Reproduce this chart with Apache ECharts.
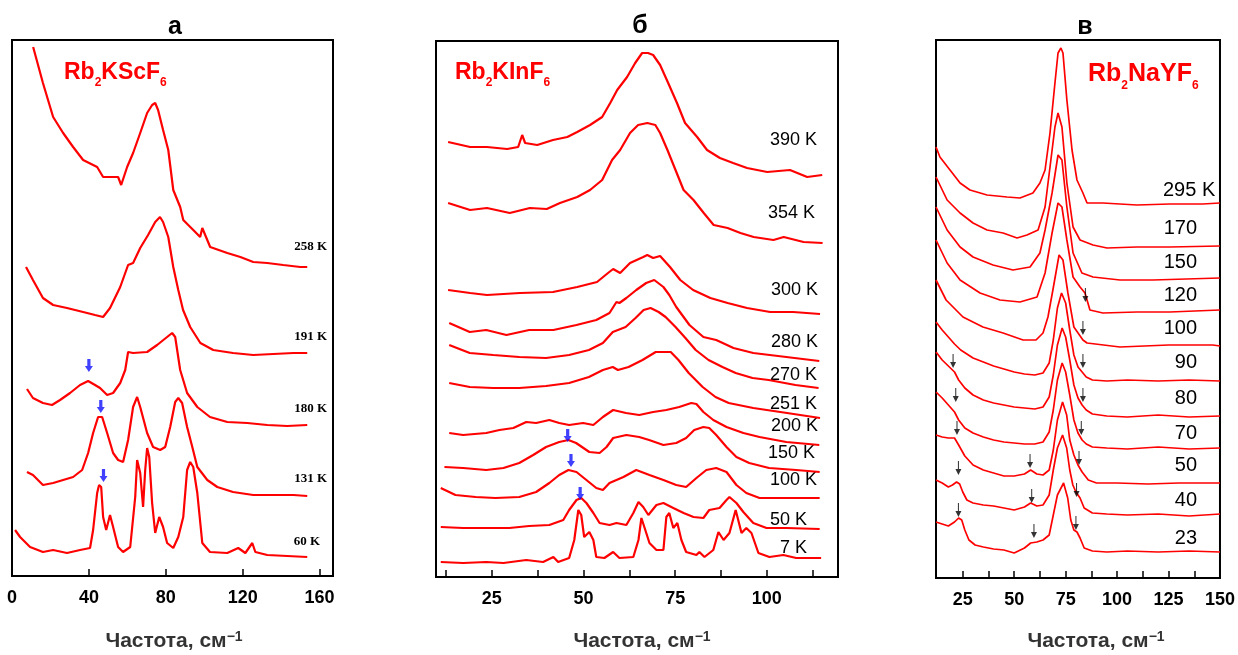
<!DOCTYPE html>
<html>
<head>
<meta charset="utf-8">
<script src="https://cdn.jsdelivr.net/npm/echarts@6/dist/echarts.min.js"></script>
<style>html,body{margin:0;padding:0;background:#fff}#main{width:1238px;height:655px}</style>
</head>
<body>
<div id="main"></div>
<script>
// ---- panel a : Rb2KScF6 ----
var a258x = [11,16.1,21.4,26.6,31.8,37,44.3,47.4,55.2,56.8,59.9,63,66.7,70.3,72.9,74.5,76,78.6,81.3,83.9,87.5,89.1,94.3,97.9,99,103.1,112,118.8,125.5,132.8,141.1,150,153.6];
var a258y = [529,493,459,443,429,416,409,399,399,391,409,423,443,463,471,473,466,446,426,386,369,356,346,339,348,329,323,319,314,313,311,309,309];
var a191x = [7.3,10.9,16.1,21.4,28.6,37,43.2,47.4,51,56.3,60.4,63,66.7,70.8,74.5,77,78.6,81.3,83.9,86.5,89,92.7,98,104.7,115,125.5,136,146.4,153.6];
var a191y = [309,296,278,271,268,264,261,259,268,289,311,313,328,341,354,359,354,339,309,286,266,249,233,226,223,221,222,223,223];
var a180x = [7.8,10.9,16.1,20.8,25,30.2,35.4,39.6,43.2,45.8,49.5,52.6,56.3,58.9,60.4,63,70.3,75.5,80.7,83.3,84.9,87.5,91.1,96.4,103,112,122.4,132.8,143.2,153.6];
var a180y = [187,178,173,171,176,183,191,195,191,188,181,183,193,206,224,223,224,231,239,243,239,206,183,169,159,154,153,151,150,151];
var a131x = [7.8,10.9,16.1,21.4,26.6,31.8,36.5,39.6,42.2,44.8,46.9,49.5,52.6,55.2,57.8,60.4,63,65.1,66.7,70.3,73.4,77.1,79.7,82.3,84.9,86.5,88.5,91.1,93.8,96.4,101.6,106.8,115,125.5,136,146.4,153.6];
var a131y = [104,101,91,93,96,99,106,123,143,159,159,143,123,116,114,136,169,179,169,143,129,126,129,149,174,178,173,149,129,109,96,89,84,81,81,81,80];
var a60x = [1.6,4.2,9.4,16.1,21.4,28.6,35.4,40.6,42.2,44.3,45.3,46.4,47.4,49,51,52.6,55.2,57.8,61.5,64.1,65.1,66.7,68.2,69.3,70.3,71.4,72.9,74.5,76.6,78.6,80.7,83.9,86.5,89.1,91.1,92.7,94.3,96.4,99,103,112,117.7,121.4,125,126.6,132.8,143.2,153.6];
var a60y = [46,39,29,24,26,23,26,28,46,83,91,89,59,46,61,49,29,24,29,79,116,103,69,106,128,119,73,43,59,49,33,28,39,59,106,114,109,83,33,24,23,28,23,33,24,21,20,19];
var aArrows = [[40,204],[46.2,163],[47.6,94]];
var aTemps = ['258 K','191 K','180 K','131 K','60 K'];
var aTicks = [0,40,80,120,160];

// ---- panel б : Rb2KInF6 ----
var b390x = [13.1,19.1,23.7,29.2,32.2,33.3,34.1,37.4,41.7,45.6,48.3,51.8,55.1,57.3,59.2,61.9,64.1,66,67.6,69,70.9,73.1,75.5,77.7,81,83.7,87.2,90.8,94.6,100.1,106.3,111,115.1];
var b390y = [435,430,430,428,430,442,434,432,437,440,445,452,460,474,487,500,514,524,524,522,512,494,474,454,440,427,419,414,409,405,407,400,402];
var b354x = [13.1,19.1,23.7,29.9,35.4,40,43.6,48.3,51.8,55.1,57.8,60,62.7,64.9,67.4,69.6,70.9,72.9,75.1,77.3,80,82.8,85.5,89.3,92.8,96.4,101.8,104.6,110,115.2];
var b354y = [374,367,369,364,369,368,374,380,387,397,417,427,444,452,454,452,444,427,407,387,377,364,352,349,344,340,337,340,335,334];
var b300x = [13.1,19.1,23.7,32.7,41.7,48.3,53.7,56.7,58.1,60,62.7,66.3,67.4,69,70.9,73.6,76.4,79.9,84.6,89.3,94.6,100.9,107.2,114.5];
var b300y = [287,284,282,284,285,290,295,304,308,304,314,320,322,319,321,310,297,287,279,274,269,265,265,263];
var b280x = [13.4,19,23.5,29,35.2,41.8,48.1,53.5,57.1,59,59.8,61.7,64.4,67.1,69.3,71.8,73.4,75.3,78.9,82.7,86.2,90.9,96.3,105.3,114.3];
var b280y = [254,245,247,242,247,247,252,257,264,275,274,279,287,294,297,290,282,270,252,240,237,229,224,220,216];
var b270x = [13.4,19,25.4,32.5,39.8,46.1,51.5,55.3,58,61.5,64.2,66.4,68.3,70.5,72.4,75.1,77.8,80.6,84.1,87.9,91.5,96.1,100.5,107.8,114.1];
var b270y = [232,224,222,220,219,222,227,234,245,250,259,267,269,265,260,250,239,227,217,210,204,199,197,192,189];
var b251x = [13.4,19,25.4,32.5,39.8,46.1,51.5,55.3,58,59.4,62.3,66.1,69.7,72.4,73.8,75.9,78.7,82.5,86,89.6,96.3,105.5,114.5];
var b251y = [194,190,189,189,191,194,200,207,210,207,210,217,225,225,225,217,204,190,180,174,169,164,159];
var b200x = [13.4,17.2,23.5,27.1,30.9,34.4,37.1,40.7,43.4,46.1,49.9,52.7,55.3,58.1,61.6,65.2,69,72.6,76.1,79.4,80.8,82.7,85.4,89,93.6,98,105.3,114.3];
var b200y = [144,142,144,147,149,155,154,157,154,152,154,152,160,167,164,162,165,167,170,174,173,165,157,150,144,140,135,132];
var b150x = [12.1,17.2,23.5,28.2,32.5,36.3,39.8,43.4,45.9,48,51.6,54.4,56.3,58.1,61.7,65.2,67.9,71.8,75.3,78,80.2,82.7,84.3,86.2,89,91.7,95.2,100.6,108,114.4];
var b150y = [110,109,107,109,114,122,130,135,137,134,125,124,130,139,142,140,137,132,134,139,147,150,149,142,130,120,114,109,107,105];
var b100x = [11.1,15.1,20.6,26,32.5,37.1,40.7,43.4,45.9,48.1,50.8,53.5,55.3,57.1,60.9,64.4,68,71.8,75.3,78,80.8,83.5,86.2,89,91.7,94.4,98,105.3,114.4];
var b100y = [89,82,80,79,80,85,94,102,107,105,97,89,87,94,100,107,102,97,92,90,99,107,109,105,92,84,79,79,79];
var b50x = [11.1,17.2,23.5,29.8,35.2,40.7,44.5,46.1,48.1,49.4,50.8,52.7,54.4,57.1,59,61.7,63.6,65,66.3,67.7,69.9,71.8,74.5,77.3,80,82.7,84.3,87.1,89,89.8,91.7,93.6,96.3,99.9,105.3,114.4];
var b50y = [50,49,49,49,51,52,57,67,77,79,74,64,54,52,54,52,64,75,70,62,72,74,69,64,60,59,67,69,77,80,74,65,54,49,49,48];
var b7x = [11.1,17.2,23.5,28.2,34.4,39,41.8,43.1,46.1,47.5,48.6,49.4,50.2,51.6,52.7,53.5,55.7,58.1,59.8,63.6,65,65.8,66.6,68,69.9,71.8,72.6,73.4,74.5,75.6,76.7,78,80.8,81.6,83,85.4,86.8,88.2,89.8,91.5,93.1,94.4,95.8,97.7,100.7,104.5,108,114.8];
var b7y = [15,14,15,14,17,15,20,15,19,37,67,62,40,45,37,20,19,25,19,20,37,59,50,34,27,27,60,64,49,54,37,25,22,25,20,27,45,37,44,67,44,49,44,24,20,22,19,19];
var bArrows = [[45.7,135],[46.6,110],[49.1,77]];
var bTemps = ['390 K','354 K','300 K','280 K','270 K','251 K','200 K','150 K','100 K','50 K','7 K'];
var bLabelTicks = [25,50,75,100];
var bMinorTicks = [12.5,25,37.5,50,62.5,75,87.5,100,112.5];

// ---- panel в : Rb2NaYF6 ----
var c295x = [12,13.9,18.8,23.7,28.5,36.8,46.5,52.8,59.1,62.5,65,67.4,69.8,71.3,72.7,73.7,75.6,78.1,80.5,83.4,85.4,93.1,109.6,125.6,141.6,149.9];
var c295y = [431,421,408,395,388,383,381,380,385,395,408,445,495,525,530,525,478,428,398,385,375,375,373,374,374,375];
var c170x = [12,17.4,23.7,30,36.8,44.6,51.4,56.2,61.6,65,67.4,69.8,71.3,73.2,75.6,78.6,82,88.3,95.1,109.6,125.6,149.9];
var c170y = [401,378,365,355,348,345,340,343,348,371,411,451,465,451,395,351,338,333,330,331,331,332];
var c150x = [12,17.4,23.7,30,39.7,49.4,57.7,62.5,65,68.4,71.3,73.2,75.6,78.6,82.9,88.3,101.4,117.4,149.9];
var c150y = [371,348,331,321,313,308,311,325,348,385,423,418,371,325,305,301,298,298,300];
var c120x = [12,17.4,23.7,33.4,43.1,52.8,61.1,65,68.4,71.3,73.2,75.6,78.6,82,84.4,86.8,93.1,109.6,125.6,149.9];
var c120y = [338,315,298,285,278,276,281,305,345,375,371,338,301,291,285,268,265,266,266,268];
var c100x = [12,16.9,25.1,34.8,44.6,54.3,60.6,64,66.4,68.8,71.8,73.7,76.1,79,83.4,85.4,101.4,125,146.5,150];
var c100y = [298,278,261,251,245,238,238,245,261,288,323,318,285,251,238,235,231,233,233,232];
var c90x = [12,15,18,21,24,27,30,35,40,45,50,55,60,64,67,69,71,73,75,77,79,81,83,85,88,95,105,120,135,150];
var c90y = [256,248,241,234,228,224,220,216,212,209,206,204,203,205,215,238,270,285,275,248,223,211,206,201,198,197,198,197,198,197];
var c80x = [12,15,18,21,23,26,30,35,40,45,50,55,60,64,67,69,71,73.3,75,77,79,81,83,85,88,95,105,120,135,150];
var c80y = [226,218,212,206,198,190,183,178,175,173,171,170,169,171,181,203,233,250,241,218,193,180,173,168,164,162,161,163,161,162];
var c70x = [12,15,18,21,23,26,30,35,40,45,50,55,60,64,67,69,71,73.3,75,77,79,81,83,85,88,95,105,120,135,150];
var c70y = [186,180,173,166,158,150,145,141,138,136,135,134,134,136,146,168,198,215,206,183,158,145,138,134,131,130,129,131,129,130];
var c50x = [12,15,18,21,23,26,30,35,40,45,50,55,58,61,64,67,69,71,73.5,75.5,77,79,81,83,86,90,100,115,130,150];
var c50y = [143,141,140,140,133,122,113,108,105,102,102,104,108,104,103,108,128,158,176,163,138,123,113,106,98,95,95,94,95,95];
var c40x = [12,15,18,20,22,23.5,25,27,30,35,40,45,50,55,58,61,64,67,69,71,73.5,75.5,77,78.5,80,82,84,88,95,105,120,135,150];
var c40y = [98,95,91,93,96,94,86,78,75,73,72,70,68,71,75,72,73,83,108,130,143,130,108,93,86,80,70,65,64,63,64,62,64];
var c23x = [12,15,18,21,23,24.5,26,28,31,35,40,45,50,55,58,61,64,67,69,71,74,76,77.5,79,80.5,82,84,88,95,105,120,135,150];
var c23y = [56,54,52,56,60,58,48,38,33,31,29,28,25,30,35,36,38,43,63,83,95,80,58,48,46,40,30,27,26,27,26,27,26];
var cArrows = [[20.3,210],[21.6,176],[22.2,143],[22.9,103],[22.9,61],[57.7,110],[58.5,75],[59.6,40],[84.6,276],[83.4,243],[83.4,210],[83.4,176],[82.6,143],[81.5,113],[80.3,81],[80,48]];
var cTemps = ['295 K','170','150','120','100','90','80','70','50','40','23'];
var cLabelTicks = [25,50,75,100,125,150];
var cMinorTicks = [25,37.5,50,62.5,75,87.5,100,112.5,125,137.5];

var xName = 'Частота, см';

function pts(xs, ys) {
    var res = [];
    for (var i = 0; i < xs.length; i++) res.push([xs[i], ys[i]]);
    return res;
}

var FONT = '"Liberation Sans", Arial, sans-serif';
var RED = '#ff0000';

function spec(xs, ys, idx, w) {
    return {
        type: 'line', xAxisIndex: idx, yAxisIndex: idx,
        data: pts(xs, ys), symbol: 'none', silent: true,
        lineStyle: { color: RED, width: w }
    };
}

function arrows(list, idx, path, size, color) {
    return {
        type: 'scatter', xAxisIndex: idx, yAxisIndex: idx, data: list, silent: true,
        symbol: path, symbolSize: size, symbolOffset: [0, '-50%'],
        itemStyle: { color: color }, z: 5
    };
}

var BLUE_ARROW = 'path://M3,0 L7,0 L7,7 L10,7 L5,13 L0,7 L3,7 Z';
var BLACK_ARROW = 'path://M4.4,0 L5.6,0 L5.6,8 L8.5,8 L5,14 L1.5,8 L4.4,8 Z';

function xAxisCfg(idx, min, max, labels, ticks) {
    return {
        type: 'value', gridIndex: idx, min: min, max: max,
        axisLine: { show: false },
        splitLine: { show: false },
        axisTick: { show: true, inside: true, length: 7, customValues: ticks,
            lineStyle: { color: '#000', width: 1.5 } },
        axisLabel: { customValues: labels, margin: 13, color: '#000',
            fontFamily: FONT, fontWeight: 'bold', fontSize: 18 }
    };
}

var series = [
    spec(a258x, a258y, 0, 2.2), spec(a191x, a191y, 0, 2.2), spec(a180x, a180y, 0, 2.2),
    spec(a131x, a131y, 0, 2.2), spec(a60x, a60y, 0, 2.2),
    spec(b390x, b390y, 1, 2.2), spec(b354x, b354y, 1, 2.2), spec(b300x, b300y, 1, 2.2),
    spec(b280x, b280y, 1, 2.2), spec(b270x, b270y, 1, 2.2), spec(b251x, b251y, 1, 2.2),
    spec(b200x, b200y, 1, 2.2), spec(b150x, b150y, 1, 2.2), spec(b100x, b100y, 1, 2.2),
    spec(b50x, b50y, 1, 2.2), spec(b7x, b7y, 1, 2.2),
    spec(c295x, c295y, 2, 1.7), spec(c170x, c170y, 2, 1.7), spec(c150x, c150y, 2, 1.7),
    spec(c120x, c120y, 2, 1.7), spec(c100x, c100y, 2, 1.7), spec(c90x, c90y, 2, 1.7),
    spec(c80x, c80y, 2, 1.7), spec(c70x, c70y, 2, 1.7), spec(c50x, c50y, 2, 1.7),
    spec(c40x, c40y, 2, 1.7), spec(c23x, c23y, 2, 1.7),
    arrows(aArrows, 0, BLUE_ARROW, [8, 13], '#1010ff'),
    arrows(bArrows, 1, BLUE_ARROW, [8, 13], '#1010ff'),
    arrows(cArrows, 2, BLACK_ARROW, [6, 14], '#000')
];

// text labels (positions in pixels)
var graphics = [];
function txt(x, y, text, font, align, color) {
    graphics.push({ type: 'text', x: x, y: y, silent: true,
        style: { text: text, font: font, fill: color || '#000', align: align || 'center', verticalAlign: 'middle' } });
}
function rich(x, y, text, richStyle, align) {
    graphics.push({ type: 'text', x: x, y: y, silent: true,
        style: { text: text, rich: richStyle, align: align || 'left', verticalAlign: 'middle' } });
}

txt(175, 27, 'а', 'bold 25px ' + FONT);
txt(640, 26, 'б', 'bold 25px ' + FONT);
txt(1085, 27, 'в', 'bold 25px ' + FONT);

var formulaStyle = function (fs) {
    return {
        n: { fontFamily: FONT, fontWeight: 'bold', fontSize: fs, fill: RED, color: RED, padding: [0, 0, 5, 0] },
        s: { fontFamily: FONT, fontWeight: 'bold', fontSize: 12, fill: RED, color: RED, verticalAlign: 'bottom' }
    };
};
rich(64, 75, '{n|Rb}{s|2}{n|KScF}{s|6}', formulaStyle(23));
rich(455, 75, '{n|Rb}{s|2}{n|KInF}{s|6}', formulaStyle(23));
rich(1088, 77, '{n|Rb}{s|2}{n|NaYF}{s|6}', formulaStyle(25));

var supStyle = {
    m: { fontFamily: FONT, fontWeight: 'bold', fontSize: 21, color: '#333', fill: '#333' },
    u: { fontFamily: FONT, fontWeight: 'bold', fontSize: 14, color: '#333', fill: '#333', verticalAlign: 'top' }
};
rich(174, 641, '{m|' + xName + '}{u|−1}', supStyle, 'center');
rich(642, 641, '{m|' + xName + '}{u|−1}', supStyle, 'center');
rich(1096, 641, '{m|' + xName + '}{u|−1}', supStyle, 'center');

var aY = [247, 337, 409, 479, 542];
var aR = [327, 327, 327, 327, 320];
for (var i = 0; i < aTemps.length; i++)
    txt(aR[i], aY[i], aTemps[i], 'bold 13px "Liberation Serif", "Times New Roman", serif', 'right');

var bY = [140, 213, 290, 342, 375, 404, 426, 453, 480, 520, 548];
var bR = [817, 815, 818, 818, 817, 817, 818, 815, 817, 807, 807];
for (var i = 0; i < bTemps.length; i++)
    txt(bR[i], bY[i], bTemps[i], '18px ' + FONT, 'right');

var cY = [190, 228, 262, 295, 328, 362, 398, 433, 465, 500, 538];
for (var i = 0; i < cTemps.length; i++) {
    if (i === 0) txt(1163, cY[i], cTemps[i], '20px ' + FONT, 'left');
    else txt(1197, cY[i], cTemps[i], '20px ' + FONT, 'right');
}

var chart = echarts.init(document.getElementById('main'), null, { renderer: 'canvas' });
chart.setOption({
    animation: false,
    backgroundColor: '#fff',
    grid: [
        { left: 12, top: 40, width: 321, height: 536, show: true, borderColor: '#000', borderWidth: 2 },
        { left: 436, top: 41, width: 402, height: 536, show: true, borderColor: '#000', borderWidth: 2 },
        { left: 936, top: 40, width: 284, height: 538, show: true, borderColor: '#000', borderWidth: 2 }
    ],
    xAxis: [
        xAxisCfg(0, 0, 167, aTicks, [40, 80, 120, 160]),
        xAxisCfg(1, 9.8, 119.4, bLabelTicks, bMinorTicks),
        xAxisCfg(2, 12, 150, cLabelTicks, cMinorTicks)
    ],
    yAxis: [
        { type: 'value', gridIndex: 0, min: 0, max: 536, show: false },
        { type: 'value', gridIndex: 1, min: 0, max: 536, show: false },
        { type: 'value', gridIndex: 2, min: 0, max: 538, show: false }
    ],
    graphic: graphics,
    series: series
});
</script>
</body>
</html>
